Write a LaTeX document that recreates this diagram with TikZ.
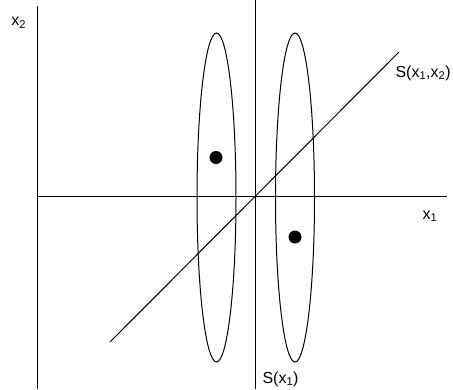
\documentclass[tikz,border=0pt]{standalone}
\usepackage{fontspec}
\setmainfont{Liberation Sans}

\begin{document}
\begin{tikzpicture}[x=1pt,y=-1pt,line width=1pt,
  font=\fontsize{16}{19}\selectfont,
  lbl/.style={inner sep=0pt,anchor=base west}]
\useasboundingbox (0,0) rectangle (453,389);
% axes
\draw (37,6) -- (37,389);
\draw (37,196.5) -- (447,196.5);
% S(x1) and S(x1,x2)
\draw (255,0) -- (255,389);
\draw (110,342) -- (399,52);
% the two classes
\draw (216.5,197.5) ellipse [x radius=19.5,y radius=164.5];
\draw (295,197.5) ellipse [x radius=19.5,y radius=164.5];
\fill (216,157.5) circle [radius=6.5];
\fill (295,237) circle [radius=6.5];
% labels
\node[lbl] (lx2) at (11,25.5) {x\textsubscript{2}};
\node[lbl] (lx1) at (422,219) {x\textsubscript{1}};
\node[lbl] (lsx) at (395,77) {S(x\textsubscript{1},x\textsubscript{2})};
\node[lbl] (ls1) at (262,383) {S(x\textsubscript{1})};
\end{tikzpicture}
\end{document}
